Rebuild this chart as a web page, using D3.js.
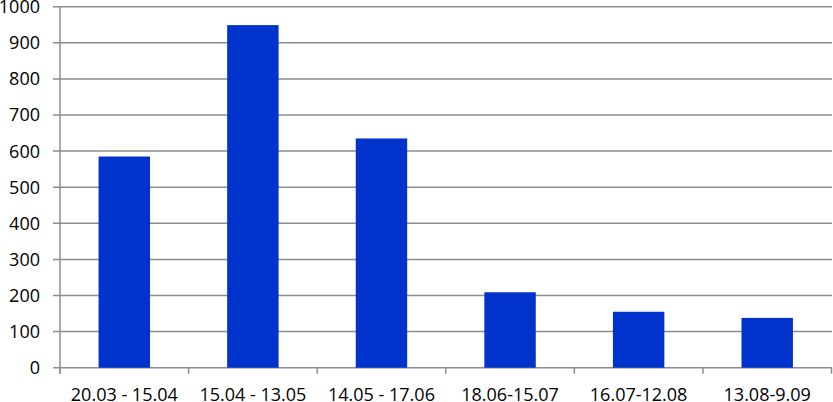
<!DOCTYPE html>
<html><head><meta charset="utf-8">
<script src="https://cdn.jsdelivr.net/npm/d3@7"></script>
<style>body{margin:0;background:#fff}svg{display:block}</style>
</head><body><svg id="c" width="833" height="402"></svg>
<script>
const categories = ["20.03 - 15.04","15.04 - 13.05","14.05 - 17.06","18.06-15.07","16.07-12.08","13.08-9.09"];
const values = [585, 949, 635, 209, 155, 138];
const yTicks = [0,100,200,300,400,500,600,700,800,900,1000];

const svg = d3.select("#c");
const mLeft = 60, mRight = 831.5, mTop = 6.7, mBottom = 367.7;
const x = d3.scaleBand().domain(categories).range([mLeft, mRight]).padding(0);
const y = d3.scaleLinear().domain([0, 1000]).range([mBottom, mTop]);
const font = "'Open Sans', 'Liberation Sans', sans-serif";

// gridlines
svg.append("g").selectAll("line").data(yTicks).join("line")
  .attr("x1", mLeft - 7).attr("x2", mRight + 0.5)
  .attr("y1", d => y(d)).attr("y2", d => y(d))
  .attr("stroke", "#8c8c8c").attr("stroke-width", 1.5);

// y axis line
svg.append("line").attr("x1", mLeft).attr("x2", mLeft).attr("y1", mTop).attr("y2", mBottom + 6)
  .attr("stroke", "#8c8c8c").attr("stroke-width", 1.5);

// x ticks at category boundaries
const bounds = categories.map(c => x(c)).concat([mRight]);
svg.append("g").selectAll("line").data(bounds).join("line")
  .attr("x1", d => d).attr("x2", d => d).attr("y1", mBottom).attr("y2", mBottom + 6)
  .attr("stroke", "#8c8c8c").attr("stroke-width", 1.5);

// bars
const bw = x.bandwidth() * 0.4;
svg.append("g").selectAll("rect").data(values).join("rect")
  .attr("x", (d, i) => x(categories[i]) + x.bandwidth() / 2 - bw / 2)
  .attr("width", bw)
  .attr("y", d => y(d))
  .attr("height", d => y(0) - y(d))
  .attr("fill", "#0033cc");

// y labels
svg.append("g").selectAll("text").data(yTicks).join("text")
  .attr("x", 40).attr("y", d => y(d)).attr("dy", "0.36em")
  .attr("text-anchor", "end").attr("font-family", font).attr("font-size", 18)
  .attr("fill", "#000").text(d => d);

// x labels
svg.append("g").selectAll("text").data(categories).join("text")
  .attr("x", d => x(d) + x.bandwidth() / 2).attr("y", 401)
  .attr("text-anchor", "middle").attr("font-family", font).attr("font-size", 18)
  .attr("fill", "#000").text(d => d);
</script></body></html>
